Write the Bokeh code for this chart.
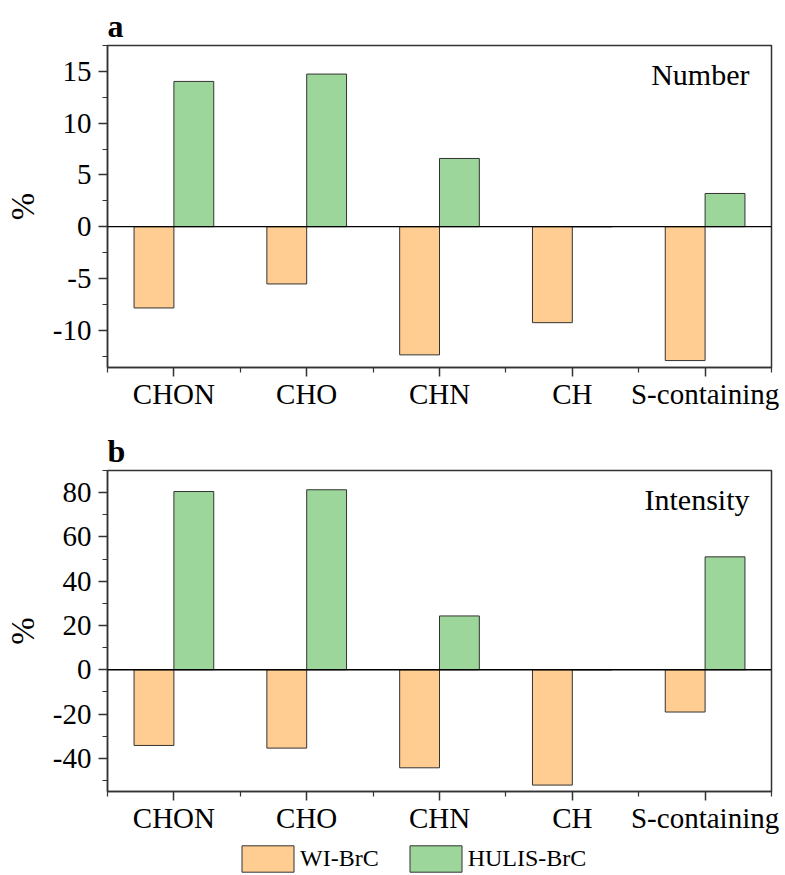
from bokeh.plotting import figure
from bokeh.layouts import column
from bokeh.models import (FixedTicker, Span, Label, Legend, LegendItem,
                          ColumnDataSource, Range1d)
from bokeh.embed import file_html
from bokeh.resources import INLINE

# ---------------- data ----------------
categories = ["CHON", "CHO", "CHN", "CH", "S-containing"]
series_names = ["WI-BrC", "HULIS-BrC"]
number_wi = [-7.85, -5.53, -12.38, -9.27, -12.93]
number_hulis = [14.03, 14.74, 6.59, 0.0, 3.21]
intensity_wi = [-34.2, -35.4, -44.3, -52.1, -19.1]
intensity_hulis = [80.5, 81.3, 24.3, 0.0, 51.0]
number_ticks = [-10, -5, 0, 5, 10, 15]
intensity_ticks = [-40, -20, 0, 20, 40, 60, 80]

FONT = "Liberation Serif"
ORANGE = "#FFCC91"
GREEN = "#9DD69A"
EDGE = "#333333"
BAR_W = 0.3
TICK_FS = "29px"


def make_panel(letter, name, wi, hulis, yr, ticks, minor, height,
               border_top, border_bottom):
    pos = list(range(1, len(categories) + 1))
    src = ColumnDataSource(dict(
        x_wi=[p - BAR_W / 2 for p in pos],
        x_hu=[p + BAR_W / 2 for p in pos],
        wi=wi, hu=hulis))
    p = figure(width=785, height=height, output_backend="svg",
               toolbar_location=None, x_range=Range1d(0.5, len(categories) + 0.5),
               y_range=Range1d(*yr),
               min_border_left=107, min_border_right=14,
               min_border_top=border_top, min_border_bottom=border_bottom)
    p.xgrid.visible = False
    p.ygrid.visible = False
    p.outline_line_color = EDGE
    p.outline_line_width = 1.5
    p.background_fill_color = "white"
    p.border_fill_color = "white"

    p.vbar(x="x_wi", top="wi", bottom=0, width=BAR_W, source=src,
           fill_color=ORANGE, line_color=EDGE, line_width=1)
    p.vbar(x="x_hu", top="hu", bottom=0, width=BAR_W, source=src,
           fill_color=GREEN, line_color=EDGE, line_width=1)
    p.add_layout(Span(location=0, dimension="width", line_color="black",
                      line_width=1.3))

    xa = p.xaxis[0]
    xa.ticker = FixedTicker(ticks=pos,
                            minor_ticks=[i + 0.5 for i in range(len(categories) + 1)])
    xa.major_label_overrides = {pp: c for pp, c in zip(pos, categories)}
    ya = p.yaxis[0]
    ya.ticker = FixedTicker(ticks=ticks, minor_ticks=minor)
    ya.major_label_overrides = {t: str(t) for t in ticks}
    ya.axis_label = "%"
    ya.axis_label_text_font = FONT
    ya.axis_label_text_font_size = "33px"
    ya.axis_label_text_font_style = "normal"
    ya.axis_label_text_color = "black"
    ya.axis_label_standoff = 9
    for ax in (xa, ya):
        ax.axis_line_color = EDGE
        ax.axis_line_width = 1.5
        ax.major_tick_line_color = EDGE
        ax.minor_tick_line_color = EDGE
        ax.major_tick_line_width = 1.5
        ax.minor_tick_line_width = 1.2
        ax.major_tick_in = 0
        ax.major_tick_out = 9
        ax.minor_tick_in = 0
        ax.minor_tick_out = 5
        ax.major_label_text_font = FONT
        ax.major_label_text_font_size = TICK_FS
        ax.major_label_text_color = "black"
    xa.major_label_standoff = 1
    ya.major_label_standoff = 7

    p.title.text = letter
    p.title.text_font = FONT
    p.title.text_font_size = "32px"
    p.title.text_font_style = "bold"
    p.title.text_color = "black"
    p.title.align = "left"
    p.title.offset = 0
    p.title.standoff = 4

    p.add_layout(Label(x=len(categories) + 0.5, y=yr[1], text=name,
                       text_font=FONT, text_font_size="30px", text_color="black",
                       text_align="right", text_baseline="top",
                       x_offset=-22, y_offset=-12))
    return p, src


top, _ = make_panel("a", "Number", number_wi, number_hulis, (-13.6, 17.5),
                    number_ticks, [-12.5, -7.5, -2.5, 2.5, 7.5, 12.5, 17.5],
                    415, 45, 48)
bot, bot_src = make_panel("b", "Intensity", intensity_wi, intensity_hulis, (-55, 90),
                          intensity_ticks, [-50, -30, -10, 10, 30, 50, 70, 90],
                          425, 55, 49)

# legend strip: same series drawn into a window where the bars fall outside,
# so only the legend entries show
leg = figure(width=785, height=35, output_backend="svg", toolbar_location=None,
             x_range=Range1d(0.5, len(categories) + 0.5), y_range=Range1d(1000, 1001),
             min_border_left=0, min_border_right=0,
             min_border_top=0, min_border_bottom=0)
leg.axis.visible = False
leg.grid.visible = False
leg.outline_line_color = None
leg.border_fill_color = "white"
lr1 = leg.vbar(x="x_wi", top="wi", bottom=0, width=BAR_W, source=bot_src,
               fill_color=ORANGE, line_color=EDGE, line_width=1)
lr2 = leg.vbar(x="x_hu", top="hu", bottom=0, width=BAR_W, source=bot_src,
               fill_color=GREEN, line_color=EDGE, line_width=1)
legend = Legend(items=[LegendItem(label=series_names[0], renderers=[lr1], index=0),
                       LegendItem(label=series_names[1], renderers=[lr2], index=0)],
                orientation="horizontal", location=(128, 0),
                glyph_width=65, glyph_height=33, label_standoff=0,
                spacing=24, padding=0, margin=0,
                label_text_font=FONT, label_text_font_size="24px",
                label_text_color="black",
                border_line_alpha=0, background_fill_alpha=0)
leg.add_layout(legend, "center")

layout = column(top, bot, leg, spacing=0)
open("out.html", "w").write(file_html(layout, INLINE))
